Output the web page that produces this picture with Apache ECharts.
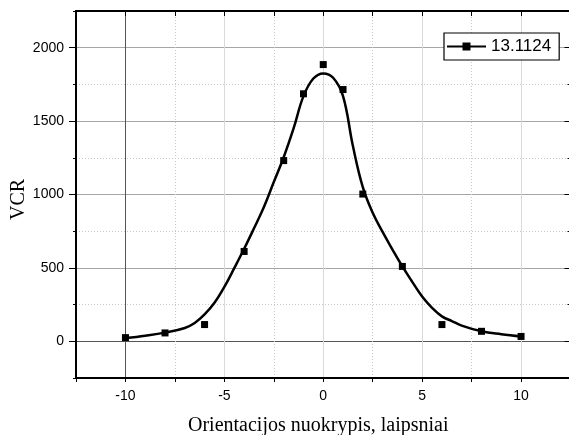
<!DOCTYPE html>
<html>
<head>
<meta charset="utf-8">
<script src="https://cdn.jsdelivr.net/npm/echarts@6/dist/echarts.min.js"></script>
<style>
html,body{margin:0;padding:0;background:#fff;}
#chart{width:569px;height:435px;}
</style>
</head>
<body>
<div id="chart"></div>
<script>
// measured points
const pointX = [-10, -8, -6, -4, -2, -1, 0, 1, 2, 4, 6, 8, 10];
const pointY = [25, 57, 114, 612, 1231, 1686, 1885, 1715, 1003, 510, 114, 68, 33];
// fitted curve
const fitX = [-10, -9, -8, -7, -6.5, -6, -5.5, -5, -4.5, -4, -3.5, -3, -2.5, -2, -1.5, -1, -0.5, 0, 0.5, 1, 1.5, 2, 2.5, 3, 3.5, 4, 4.5, 5, 5.5, 6, 6.5, 7, 8, 9, 10];
const fitY = [22, 38, 59, 91, 125, 183, 262, 370, 498, 630, 770, 915, 1085, 1254, 1450, 1670, 1790, 1825, 1795, 1670, 1330, 1050, 875, 745, 625, 510, 405, 305, 228, 170, 138, 107, 68, 48, 33];
const xTickLabels = [-10, -5, 0, 5, 10];
const yTickLabels = [0, 500, 1000, 1500, 2000];
const yMinorTicks = [-250, 250, 750, 1250, 1750, 2250];
const seriesName = '13.1124';
const xTitle = 'Orientacijos nuokrypis, laipsniai';
const yTitle = 'VCR';

const T = 'rgba(0,0,0,0)';
const sans = '"Liberation Sans", Arial, sans-serif';
const serif = '"Liberation Serif", "Times New Roman", serif';

const chart = echarts.init(document.getElementById('chart'), null, {renderer: 'canvas'});

const xBase = {type: 'value', min: -12.5, max: 12.5, interval: 2.5, gridIndex: 0};
const yBase = {type: 'value', min: -250, max: 2250, interval: 250, gridIndex: 0};
const plain = v => String(v);
const noLine = {show: false, onZero: false};
const blackLine = {show: true, onZero: false, lineStyle: {color: '#000', width: 2}};
const off = {show: false};

const option = {
  animation: false,
  backgroundColor: '#fff',
  grid: {left: 76, top: 11, right: -1.5, bottom: 57, containLabel: false, outerBoundsMode: 'none'},
  legend: {
    left: 444, top: 33,
    padding: [5, 8, 5, 2],
    itemWidth: 39, itemHeight: 10, itemGap: 5,
    backgroundColor: '#fff',
    borderColor: '#000', borderWidth: 1.2, borderRadius: 0,
    textStyle: {fontFamily: sans, fontSize: 17, color: '#000'},
    data: [seriesName]
  },
  xAxis: [
    Object.assign({}, xBase, {
      position: 'bottom',
      name: xTitle, nameLocation: 'middle', nameGap: 38, nameMoveOverlap: false,
      nameTextStyle: {fontFamily: serif, fontSize: 20, color: '#000', padding: [0, 10, 0, 0]},
      axisLine: blackLine,
      axisTick: {show: true, inside: false, length: 4, lineStyle: {color: '#000', width: 1}},
      axisLabel: {show: true, margin: 11, customValues: xTickLabels, formatter: plain, fontFamily: sans, fontSize: 14, color: '#000'},
      splitLine: {show: true, showMinLine: true, showMaxLine: true, lineStyle: {type: 'solid', width: 1,
        color: [T, '#555', T, '#d9d9d9', T, '#d9d9d9', T, '#d9d9d9', T, '#d9d9d9', T]}}
    }),
    Object.assign({}, xBase, {
      position: 'top',
      axisLine: blackLine,
      axisTick: {show: true, inside: true, length: 5, lineStyle: {color: '#000', width: 1}},
      axisLabel: off,
      splitLine: {show: true, showMinLine: true, showMaxLine: true, lineStyle: {type: [1, 2], width: 1,
        color: [T, T, '#c8c8c8', T, '#c8c8c8', T, '#c8c8c8', T, '#c8c8c8', T, T]}}
    })
  ],
  yAxis: [
    // main left axis: line, labels, solid grid
    Object.assign({}, yBase, {
      position: 'left',
      name: yTitle, nameLocation: 'middle', nameGap: 47, nameRotate: 90, nameMoveOverlap: false,
      nameTextStyle: {fontFamily: serif, fontSize: 20, color: '#000', padding: [0, 10, 0, 0]},
      axisLine: blackLine,
      axisTick: off,
      axisLabel: {show: true, margin: 12, customValues: yTickLabels, formatter: plain, fontFamily: sans, fontSize: 14, color: '#000'},
      splitLine: {show: true, showMinLine: true, showMaxLine: true, lineStyle: {type: 'solid', width: 1,
        color: [T, '#555', T, '#a6a6a6', T, '#a6a6a6', T, '#a6a6a6', T, '#a6a6a6', T]}}
    }),
    // dotted minor grid
    Object.assign({}, yBase, {
      position: 'left', offset: 0,
      axisLine: noLine, axisTick: off, axisLabel: off,
      splitLine: {show: true, showMinLine: true, showMaxLine: true, lineStyle: {type: [1, 2], width: 1,
        color: [T, T, '#c8c8c8', T, '#c8c8c8', T, '#c8c8c8', T, '#c8c8c8', T, T]}}
    }),
    // left major ticks
    Object.assign({}, yBase, {
      position: 'left', offset: 0,
      axisLine: noLine, axisLabel: off, splitLine: off,
      axisTick: {show: true, inside: false, length: 7, customValues: yTickLabels, lineStyle: {color: '#000', width: 1}}
    }),
    // left minor ticks
    Object.assign({}, yBase, {
      position: 'left', offset: 0,
      axisLine: noLine, axisLabel: off, splitLine: off,
      axisTick: {show: true, inside: false, length: 3, customValues: yMinorTicks, lineStyle: {color: '#000', width: 1}}
    }),
    // right axis with major ticks
    Object.assign({}, yBase, {
      position: 'right', offset: 0,
      axisLine: blackLine, axisLabel: off, splitLine: off,
      axisTick: {show: true, inside: true, length: 6, customValues: yTickLabels, lineStyle: {color: '#000', width: 1}}
    }),
    // right minor ticks
    Object.assign({}, yBase, {
      position: 'right', offset: 0,
      axisLine: noLine, axisLabel: off, splitLine: off,
      axisTick: {show: true, inside: true, length: 3, customValues: yMinorTicks, lineStyle: {color: '#000', width: 1}}
    })
  ],
  series: [
    {
      name: seriesName,
      type: 'line',
      xAxisIndex: 0, yAxisIndex: 0,
      data: fitX.map((x, i) => [x, fitY[i]]),
      smooth: 0.4,
      symbol: 'rect', symbolSize: 7, showSymbol: false,
      lineStyle: {color: '#000', width: 2.5},
      itemStyle: {color: '#000', opacity: 1},
      z: 3
    },
    {
      name: seriesName,
      type: 'scatter',
      xAxisIndex: 0, yAxisIndex: 0,
      data: pointX.map((x, i) => [x, pointY[i]]),
      symbol: 'rect', symbolSize: 7,
      itemStyle: {color: '#000', opacity: 1},
      z: 4
    }
  ]
};
chart.setOption(option);
</script>
</body>
</html>
